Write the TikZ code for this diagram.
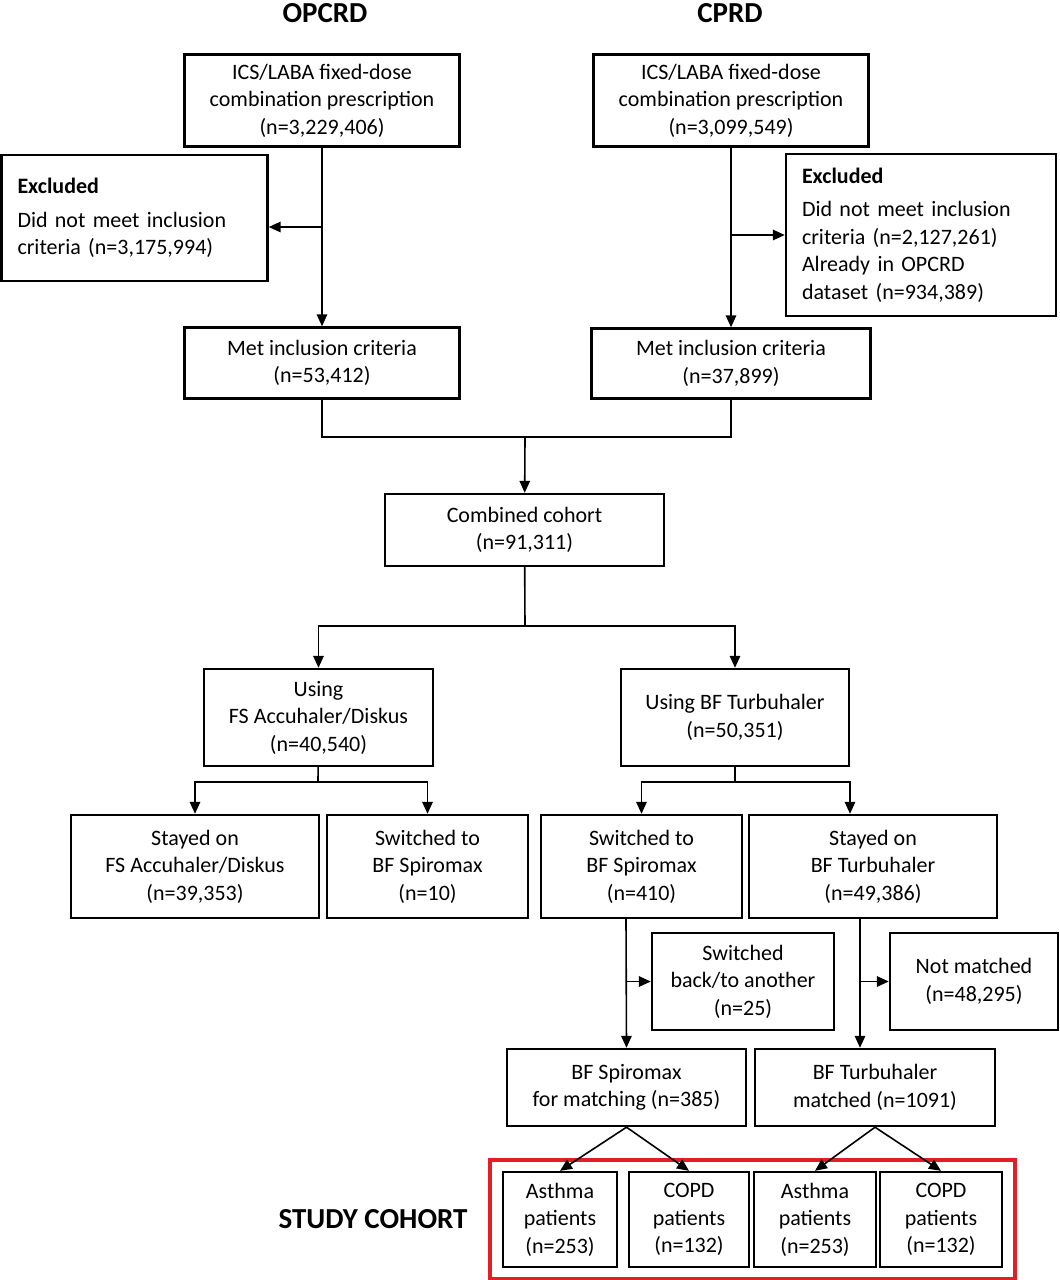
\documentclass[tikz,border=0pt]{standalone}
\usepackage{fontspec}
\setmainfont{Carlito}
\usetikzlibrary{arrows.meta,positioning,fit,calc}
\definecolor{cohortred}{HTML}{E31E24}

\begin{document}
\begin{tikzpicture}[x=1pt,y=-1pt,
  font=\fontsize{22}{27.5}\selectfont,
  hdr/.style={font=\fontsize{29}{32}\selectfont\bfseries},
  box/.style={draw,line width=2.4pt,align=center,inner sep=0pt},
  excl/.style={draw,line width=2.4pt,align=left,inner xsep=16pt,inner ysep=0pt},
  arr/.style={line width=1.6pt,-{Triangle[length=12pt,width=10.5pt]}},
  ln/.style={line width=1.6pt},
]
\useasboundingbox (0,0) rectangle (1060,1280);

% sources
\node[hdr] (h1) at (325,13) {OPCRD};
\node[hdr] (h2) at (730,13) {CPRD};

\node[box,minimum width=275,minimum height=92] (presL) at (322,100.5)
  {ICS/LABA fixed-dose\\combination prescription\\(n=3,229,406)};
\node[box,minimum width=275,minimum height=92] (presR) at (731,100.5)
  {ICS/LABA fixed-dose\\combination prescription\\(n=3,099,549)};

\node[excl,text width=234,minimum height=126] (exclL) at (134.5,218)
  {\textbf{Excluded}\\[6pt]Did not meet inclusion\\criteria (n=3,175,994)};
\node[excl,text width=238,minimum height=162] (exclR) at (921,235)
  {\textbf{Excluded}\\[6pt]Did not meet inclusion\\criteria (n=2,127,261)\\Already in OPCRD\\dataset (n=934,389)};

\node[box,minimum width=275,minimum height=71] (metL) at (322,363)
  {Met inclusion criteria\\(n=53,412)};
\node[box,minimum width=279,minimum height=70] (metR) at (731,363.5)
  {Met inclusion criteria\\(n=37,899)};

% combined
\node[box,minimum width=279,minimum height=72] (comb) at (524.5,530)
  {Combined cohort\\(n=91,311)};

\node[box,minimum width=229,minimum height=97] (usingFS) at (318.5,717.5)
  {Using\\FS Accuhaler/Diskus\\(n=40,540)};
\node[box,minimum width=228,minimum height=97] (usingBF) at (735,717.5)
  {Using BF Turbuhaler\\(n=50,351)};

\node[box,minimum width=248,minimum height=103] (stayFS) at (195,866.5)
  {Stayed on\\FS Accuhaler/Diskus\\(n=39,353)};
\node[box,minimum width=201,minimum height=103] (swL) at (427.5,866.5)
  {Switched to\\BF Spiromax\\(n=10)};
\node[box,minimum width=201,minimum height=103] (swR) at (641.5,866.5)
  {Switched to\\BF Spiromax\\(n=410)};
\node[box,minimum width=248,minimum height=103] (stayBF) at (873,866.5)
  {Stayed on\\BF Turbuhaler\\(n=49,386)};

\node[box,minimum width=182,minimum height=97] (backTo) at (743,981.5)
  {Switched\\back/to another\\(n=25)};
\node[box,minimum width=168,minimum height=97] (notM) at (974,981.5)
  {Not matched\\(n=48,295)};

\node[box,minimum width=239,minimum height=77] (spiroM) at (626.5,1087.5)
  {BF Spiromax\\for matching (n=385)};
\node[box,minimum width=240,minimum height=77] (turbM) at (875,1087.5)
  {BF Turbuhaler\\matched (n=1091)};

% study cohort
\node[box,minimum width=114,minimum height=95] (asth1) at (560,1219.5)
  {Asthma\\patients\\(n=253)};
\node[box,minimum width=120,minimum height=95] (copd1) at (689,1219.5)
  {COPD\\patients\\(n=132)};
\node[box,minimum width=122,minimum height=95] (asth2) at (815,1219.5)
  {Asthma\\patients\\(n=253)};
\node[box,minimum width=122,minimum height=95] (copd2) at (941,1219.5)
  {COPD\\patients\\(n=132)};
\node[draw=cohortred,line width=3.5pt,inner xsep=12pt,inner ysep=11pt,
      fit=(asth1)(copd2)] (cohort) {};
\node[hdr,left=17pt of cohort] (sc) {STUDY COHORT};

% connectors
\coordinate (eL) at (322,227);
\coordinate (join) at (525,437);
\coordinate (split) at (525,626);
\coordinate (splitFS) at (318,782);
\coordinate (splitBF) at (735,782);
\coordinate (sb) at (626,981.5);
\coordinate (tb) at (860,981.5);

\draw[arr] (presL) -- (metL);
\draw[arr] (eL) -- (eL -| exclL.east);
\draw[arr] (presR) -- (metR);
\draw[arr] (presR.south |- exclR.west) -- (exclR.west);

\draw[ln] (metL.south) |- (join) -| (metR.south);
\draw[arr] (join) -- (comb);

\draw[ln] (comb) -- (split);
\draw[arr] (split) -| (usingFS.north);
\draw[arr] (split) -| (usingBF.north);

\draw[ln] (usingFS) -- (splitFS);
\draw[arr] (splitFS) -| (stayFS.north);
\draw[arr] (splitFS) -| (swL.north);
\draw[ln] (usingBF) -- (splitBF);
\draw[arr] (splitBF) -| (swR.north);
\draw[arr] (splitBF) -| ([xshift=-23pt]stayBF.north);

\draw[arr] (sb |- swR.south) -- (spiroM.north);
\draw[arr] (sb) -- (backTo.west);
\draw[arr] (tb |- stayBF.south) -- (tb |- turbM.north);
\draw[arr] (tb) -- (notM.west);

\draw[arr] (spiroM.south) -- (asth1.north);
\draw[arr] (spiroM.south) -- (copd1.north);
\draw[arr] (turbM.south) -- (asth2.north);
\draw[arr] (turbM.south) -- (copd2.north);
\end{tikzpicture}
\end{document}
